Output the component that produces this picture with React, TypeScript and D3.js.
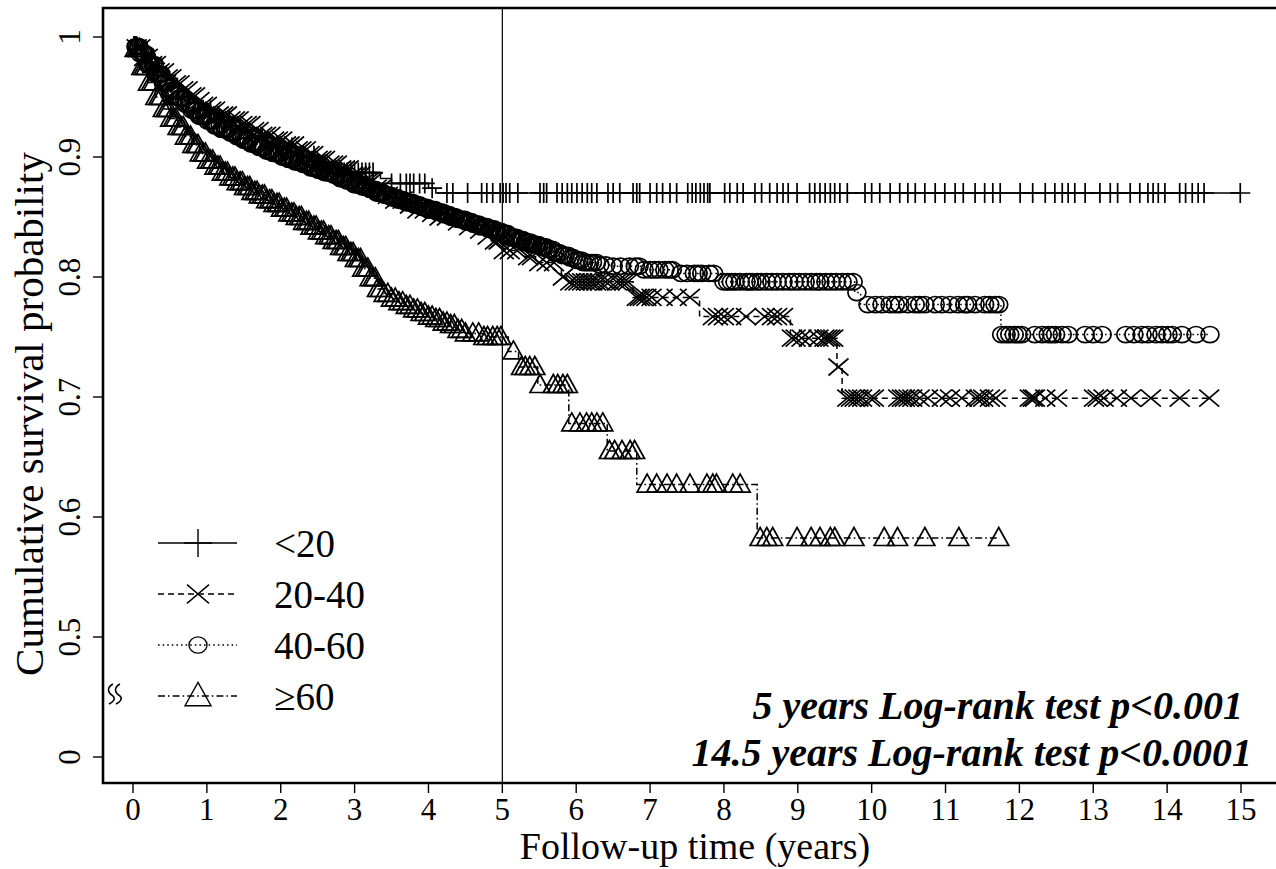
import * as d3 from "d3";

// survival curves: [years, survival] where the step starts
const groupNames = ["<20", "20-40", "40-60", "≥60"];

const stepsLt20: [number, number][] = [
  [0, 1], [0.04, 0.993], [0.1, 0.986], [0.2, 0.978], [0.35, 0.968], [0.5, 0.958],
  [0.7, 0.948], [0.9, 0.939], [1.1, 0.931], [1.35, 0.923], [1.6, 0.916], [1.9, 0.908],
  [2.2, 0.901], [2.5, 0.894], [2.75, 0.887], [3.35, 0.882], [3.5, 0.878], [4.0, 0.874],
  [4.1, 0.87],
];
const censorLt20 = [
  0.15, 0.3, 0.45, 0.6, 0.75, 0.9, 1.05, 1.2, 1.3, 1.45, 1.6, 1.75, 1.9, 2.0, 2.15, 2.3,
  2.45, 2.6, 2.78, 2.82, 2.86, 2.9, 2.95, 3.0, 3.05, 3.1, 3.15, 3.2, 3.25, 3.5, 3.62, 3.7,
  3.75, 3.8, 3.88, 3.95, 4.05, 4.25, 4.33, 4.53, 4.72, 4.79, 4.87, 4.97, 5.01, 5.05, 5.1,
  5.21, 5.51, 5.56, 5.6, 5.74, 5.81, 5.88, 5.94, 6.01, 6.08, 6.15, 6.21, 6.28, 6.43, 6.5,
  6.59, 6.77, 6.82, 6.86, 7.0, 7.09, 7.17, 7.27, 7.36, 7.51, 7.57, 7.62, 7.68, 7.73, 7.78,
  7.81, 8.01, 8.08, 8.18, 8.26, 8.42, 8.51, 8.62, 8.72, 8.8, 8.87, 8.99, 9.16, 9.23, 9.3,
  9.37, 9.44, 9.5, 9.57, 9.67, 9.91, 10.0, 10.11, 10.25, 10.38, 10.49, 10.59, 10.72, 10.86,
  10.99, 11.13, 11.24, 11.4, 11.53, 11.64, 11.74, 12.01, 12.18, 12.35, 12.48, 12.58, 12.66,
  12.75, 12.89, 13.09, 13.23, 13.33, 13.5, 13.63, 13.74, 13.81, 13.88, 13.97, 14.17, 14.25,
  14.34, 14.42, 14.5, 14.99,
];

const steps2040: [number, number][] = [
  [0, 1], [0.05, 0.991], [0.15, 0.983], [0.25, 0.977], [0.35, 0.971], [0.45, 0.966],
  [0.55, 0.961], [0.65, 0.956], [0.75, 0.951], [0.85, 0.947], [0.95, 0.943], [1.05, 0.939],
  [1.15, 0.935], [1.3, 0.931], [1.45, 0.927], [1.6, 0.922], [1.75, 0.918], [1.9, 0.914],
  [2.05, 0.91], [2.2, 0.906], [2.35, 0.902], [2.5, 0.898], [2.65, 0.894], [2.8, 0.89],
  [2.95, 0.885], [3.1, 0.88], [3.25, 0.874], [3.4, 0.868], [3.55, 0.864], [3.7, 0.86],
  [3.85, 0.856], [4.0, 0.853], [4.15, 0.85], [4.3, 0.846], [4.45, 0.842], [4.6, 0.839],
  [4.75, 0.834], [4.85, 0.83], [5.0, 0.822], [5.3, 0.817], [5.45, 0.812], [5.8, 0.8],
  [5.87, 0.796], [6.77, 0.783], [7.67, 0.767], [8.9, 0.749], [9.53, 0.725], [9.6, 0.699],
];
const censor2040 = [
  0.05, 0.1, 0.15, 0.2, 0.26, 0.31, 0.36, 0.42, 0.47, 0.52, 0.58, 0.63, 0.68, 0.74, 0.79,
  0.84, 0.9, 0.95, 1.0, 1.06, 1.11, 1.16, 1.22, 1.27, 1.32, 1.38, 1.43, 1.48, 1.54, 1.59,
  1.64, 1.7, 1.75, 1.8, 1.86, 1.91, 1.96, 2.02, 2.07, 2.12, 2.18, 2.23, 2.28, 2.34, 2.39,
  2.44, 2.5, 2.55, 2.6, 2.66, 2.71, 2.76, 2.82, 2.87, 2.92, 2.98, 3.03, 3.08, 3.14, 3.19,
  3.24, 3.3, 3.36, 3.45, 3.55, 3.65, 3.75, 3.85, 3.95, 4.05, 4.15, 4.25, 4.4, 4.55, 4.7,
  4.8, 4.9, 4.95, 5.02, 5.1, 5.2, 5.35, 5.4, 5.5, 5.6, 5.7, 5.82, 5.92, 5.98, 6.03, 6.08,
  6.13, 6.18, 6.22, 6.27, 6.32, 6.4, 6.45, 6.55, 6.6, 6.65, 6.7, 6.82, 6.86, 6.9, 6.95,
  7.02, 7.17, 7.36, 7.54, 7.85, 7.92, 8.0, 8.1, 8.3, 8.55, 8.65, 8.72, 8.8, 8.92, 8.97,
  9.05, 9.15, 9.28, 9.36, 9.4, 9.44, 9.48, 9.55, 9.67, 9.72, 9.77, 9.82, 9.87, 9.98, 10.03,
  10.36, 10.41, 10.45, 10.5, 10.55, 10.65, 10.76, 10.95, 11.06, 11.22, 11.41, 11.46, 11.51,
  11.6, 11.68, 12.14, 12.18, 12.21, 12.35, 12.51, 13.01, 13.06, 13.14, 13.32, 13.51, 13.78,
  14.17, 14.57,
];

const steps4060: [number, number][] = [
  [0, 1], [0.04, 0.992], [0.1, 0.986], [0.2, 0.977], [0.3, 0.969], [0.4, 0.962],
  [0.5, 0.955], [0.6, 0.949], [0.7, 0.944], [0.8, 0.939], [0.9, 0.934], [1.0, 0.93],
  [1.1, 0.926], [1.2, 0.923], [1.3, 0.92], [1.4, 0.917], [1.5, 0.914], [1.6, 0.911],
  [1.7, 0.908], [1.8, 0.905], [1.9, 0.903], [2.0, 0.9], [2.1, 0.898], [2.2, 0.896],
  [2.3, 0.894], [2.4, 0.891], [2.5, 0.889], [2.6, 0.887], [2.7, 0.885], [2.8, 0.882],
  [2.9, 0.88], [3.0, 0.877], [3.1, 0.875], [3.2, 0.873], [3.3, 0.87], [3.4, 0.868],
  [3.5, 0.866], [3.6, 0.864], [3.7, 0.862], [3.8, 0.86], [3.9, 0.858], [4.0, 0.856],
  [4.1, 0.854], [4.2, 0.852], [4.3, 0.85], [4.4, 0.848], [4.5, 0.846], [4.6, 0.844],
  [4.7, 0.842], [4.8, 0.84], [4.9, 0.838], [5.0, 0.836], [5.1, 0.833], [5.2, 0.831],
  [5.3, 0.829], [5.4, 0.827], [5.5, 0.825], [5.6, 0.823], [5.7, 0.82], [5.8, 0.818],
  [5.9, 0.816], [6.0, 0.814], [6.1, 0.812], [6.3, 0.81], [6.5, 0.809], [6.9, 0.806],
  [7.4, 0.803], [7.95, 0.796], [9.77, 0.787], [9.85, 0.777], [11.75, 0.752],
];
const censor4060 = [
  0.04, 0.06, 0.08, 0.1, 0.13, 0.15, 0.17, 0.2, 0.22, 0.24, 0.27, 0.29, 0.31, 0.34, 0.36,
  0.38, 0.41, 0.43, 0.45, 0.48, 0.5, 0.52, 0.55, 0.57, 0.59, 0.62, 0.64, 0.66, 0.69, 0.71,
  0.73, 0.76, 0.78, 0.8, 0.83, 0.85, 0.87, 0.9, 0.92, 0.94, 0.97, 0.99, 1.01, 1.04, 1.06,
  1.08, 1.11, 1.13, 1.15, 1.18, 1.2, 1.22, 1.25, 1.27, 1.29, 1.32, 1.34, 1.36, 1.39, 1.41,
  1.43, 1.46, 1.48, 1.5, 1.53, 1.55, 1.57, 1.6, 1.62, 1.64, 1.67, 1.69, 1.71, 1.74, 1.76,
  1.78, 1.81, 1.83, 1.85, 1.88, 1.9, 1.92, 1.95, 1.97, 1.99, 2.02, 2.04, 2.06, 2.09, 2.11,
  2.13, 2.16, 2.18, 2.2, 2.23, 2.25, 2.27, 2.3, 2.32, 2.34, 2.37, 2.39, 2.41, 2.44, 2.46,
  2.48, 2.51, 2.53, 2.55, 2.58, 2.6, 2.62, 2.65, 2.67, 2.69, 2.72, 2.74, 2.76, 2.79, 2.81,
  2.83, 2.86, 2.88, 2.9, 2.93, 2.95, 2.97, 3.0, 3.02, 3.04, 3.07, 3.09, 3.11, 3.14, 3.16,
  3.18, 3.21, 3.23, 3.25, 3.28, 3.3, 3.32, 3.35, 3.37, 3.39, 3.42, 3.44, 3.46, 3.49, 3.51,
  3.53, 3.56, 3.58, 3.6, 3.63, 3.65, 3.67, 3.7, 3.72, 3.74, 3.77, 3.79, 3.81, 3.84, 3.86,
  3.88, 3.91, 3.93, 3.95, 3.98, 4.0, 4.02, 4.05, 4.07, 4.09, 4.12, 4.14, 4.16, 4.19, 4.21,
  4.23, 4.26, 4.28, 4.3, 4.33, 4.35, 4.37, 4.4, 4.42, 4.44, 4.47, 4.49, 4.51, 4.54, 4.56,
  4.58, 4.61, 4.63, 4.65, 4.68, 4.7, 4.72, 4.75, 4.77, 4.79, 4.82, 4.84, 4.86, 4.89, 4.91,
  4.93, 4.96, 4.98, 5.0, 5.03, 5.05, 5.07, 5.1, 5.12, 5.14, 5.17, 5.19, 5.21, 5.24, 5.26,
  5.28, 5.31, 5.33, 5.35, 5.38, 5.4, 5.42, 5.45, 5.47, 5.49, 5.52, 5.54, 5.56, 5.59, 5.61,
  5.64, 5.68, 5.71, 5.75, 5.78, 5.82, 5.85, 5.89, 5.92, 5.96, 6.0, 6.03, 6.07, 6.1, 6.14,
  6.18, 6.22, 6.27, 6.32, 6.4, 6.5, 6.6, 6.72, 6.8, 6.85, 6.92, 7.0, 7.06, 7.12, 7.2, 7.26,
  7.3, 7.42, 7.5, 7.6, 7.65, 7.7, 7.8, 7.86, 8.0, 8.05, 8.1, 8.15, 8.22, 8.3, 8.34, 8.38,
  8.45, 8.5, 8.58, 8.65, 8.72, 8.8, 8.88, 8.95, 9.02, 9.1, 9.18, 9.25, 9.3, 9.38, 9.45,
  9.52, 9.6, 9.68, 9.75, 9.8, 9.95, 10.05, 10.14, 10.25, 10.32, 10.38, 10.49, 10.59, 10.65,
  10.72, 10.86, 10.95, 11.06, 11.17, 11.26, 11.3, 11.4, 11.53, 11.6, 11.67, 11.72, 11.76,
  11.82, 11.87, 11.93, 11.98, 12.03, 12.21, 12.31, 12.39, 12.44, 12.49, 12.58, 12.66,
  12.89, 13.0, 13.12, 13.44, 13.55, 13.66, 13.74, 13.85, 13.93, 14.01, 14.07, 14.2, 14.39,
  14.58,
];

const steps60: [number, number][] = [
  [0, 1], [0.03, 0.99], [0.1, 0.975], [0.2, 0.962], [0.3, 0.95], [0.4, 0.94], [0.5, 0.932],
  [0.6, 0.925], [0.7, 0.917], [0.8, 0.91], [0.9, 0.903], [1.0, 0.897], [1.1, 0.892],
  [1.2, 0.887], [1.3, 0.883], [1.4, 0.879], [1.5, 0.875], [1.6, 0.871], [1.7, 0.868],
  [1.8, 0.864], [1.9, 0.861], [2.0, 0.857], [2.1, 0.853], [2.2, 0.85], [2.3, 0.846],
  [2.4, 0.842], [2.5, 0.838], [2.6, 0.834], [2.7, 0.83], [2.8, 0.825], [2.9, 0.82],
  [3.0, 0.815], [3.1, 0.807], [3.2, 0.799], [3.3, 0.79], [3.4, 0.786], [3.5, 0.782],
  [3.6, 0.779], [3.7, 0.776], [3.8, 0.773], [3.9, 0.77], [4.0, 0.767], [4.1, 0.765],
  [4.2, 0.762], [4.3, 0.76], [4.4, 0.756], [4.5, 0.753], [4.75, 0.75], [5.08, 0.738],
  [5.22, 0.725], [5.48, 0.71], [5.9, 0.678], [6.42, 0.655], [6.82, 0.627], [8.45, 0.5825],
];
const censor60 = [
  0.03, 0.06, 0.09, 0.12, 0.15, 0.18, 0.21, 0.25, 0.28, 0.31, 0.35, 0.38, 0.41, 0.45,
  0.48, 0.51, 0.55, 0.58, 0.61, 0.65, 0.68, 0.71, 0.75, 0.78, 0.81, 0.85, 0.88, 0.91,
  0.95, 0.98, 1.01, 1.05, 1.08, 1.11, 1.15, 1.18, 1.21, 1.25, 1.28, 1.31, 1.35, 1.38,
  1.41, 1.45, 1.48, 1.51, 1.55, 1.58, 1.61, 1.65, 1.68, 1.71, 1.75, 1.78, 1.81, 1.85,
  1.88, 1.91, 1.95, 1.98, 2.01, 2.05, 2.08, 2.11, 2.15, 2.18, 2.21, 2.25, 2.28, 2.31,
  2.35, 2.38, 2.41, 2.45, 2.48, 2.51, 2.55, 2.58, 2.61, 2.65, 2.68, 2.71, 2.75, 2.78,
  2.81, 2.85, 2.88, 2.91, 2.95, 2.98, 3.01, 3.05, 3.08, 3.11, 3.15, 3.18, 3.21, 3.25,
  3.28, 3.31, 3.35, 3.4, 3.45, 3.5, 3.55, 3.6, 3.65, 3.7, 3.75, 3.8, 3.85, 3.9, 3.95, 4.0,
  4.05, 4.1, 4.15, 4.2, 4.25, 4.3, 4.35, 4.4, 4.45, 4.5, 4.6, 4.68, 4.75, 4.8, 4.87, 4.93,
  4.98, 5.15, 5.26, 5.31, 5.37, 5.44, 5.51, 5.69, 5.75, 5.82, 5.88, 5.94, 6.05, 6.14, 6.21,
  6.28, 6.36, 6.45, 6.52, 6.62, 6.73, 6.79, 6.96, 7.09, 7.23, 7.36, 7.54, 7.77, 7.85, 7.9,
  8.12, 8.22, 8.49, 8.58, 8.66, 8.99, 9.18, 9.3, 9.44, 9.5, 9.76, 10.17, 10.35, 10.72,
  11.18, 11.72,
];

const yearTicks = [0, 1, 2, 3, 4, 5, 6, 7, 8, 9, 10, 11, 12, 13, 14, 15];
const survTicks = [1, 0.9, 0.8, 0.7, 0.6, 0.5, 0.4];
const survTickLabels = ["1", "0.9", "0.8", "0.7", "0.6", "0.5", "0"];
const pLines = ["5 years Log-rank test p<0.001", "14.5 years Log-rank test p<0.0001"];

const FONT = "'Liberation Serif', 'Times New Roman', serif";

const x = d3.scaleLinear().domain([0, 15]).range([133, 1241]);
// axis is broken below 0.5; the "0" tick is drawn where 0.4 would sit
const y = d3.scaleLinear().domain([0.4, 1]).range([757, 37]);

const marker = {
  plus: (s: number) => `M${-s},0H${s}M0,${-s}V${s}`,
  cross: (s: number) => `M${-s},${-s * 0.85}L${s},${s * 0.85}M${-s},${s * 0.85}L${s},${-s * 0.85}`,
  circle: (s: number) => `M${s},0A${s},${s * 0.9} 0 1 1 ${-s},0A${s},${s * 0.9} 0 1 1 ${s},0Z`,
  triangle: (s: number) => `M0,${-s * 1.05}L${s},${s * 0.75}L${-s},${s * 0.75}Z`,
};

const groups = [
  { name: groupNames[0], steps: stepsLt20, censor: censorLt20, mk: "plus", size: 10, dash: "none" },
  { name: groupNames[1], steps: steps2040, censor: censor2040, mk: "cross", size: 10, dash: "6,4" },
  { name: groupNames[2], steps: steps4060, censor: censor4060, mk: "circle", size: 9, dash: "1.6,3" },
  { name: groupNames[3], steps: steps60, censor: censor60, mk: "triangle", size: 10, dash: "7,3,1.6,3" },
] as const;

const bis = d3.bisector((d: [number, number]) => d[0]).right;
const survAt = (steps: readonly [number, number][], t: number) =>
  steps[Math.max(0, bis(steps as [number, number][], t) - 1)][1];

const line = d3
  .line<[number, number]>()
  .x((d) => x(d[0]))
  .y((d) => y(d[1]))
  .curve(d3.curveStepAfter);

export default function App() {
  const left = 103, top = 8, bottom = 783;
  return (
    <svg
      width={1276}
      height={869}
      style={{ position: "absolute", left: 0, top: 0, background: "#fff" }}
      fontFamily={FONT}
    >
      <rect width={1276} height={869} fill="#fff" />
      {/* frame */}
      <path d={`M1276,${top}H${left}V${bottom}H1276`} fill="none" stroke="#000" strokeWidth={2.6} />
      {/* axis break mark */}
      <path
        d="M113,684c-7,4 -5,9 0,12c3,3 0,6 -4,8M120,684c-7,4 -5,9 0,12c3,3 0,6 -4,8"
        fill="none"
        stroke="#000"
        strokeWidth={1.5}
      />
      {/* y ticks */}
      {survTicks.map((v, i) => (
        <g key={"yt" + i}>
          <line x1={left - 10} x2={left} y1={y(v)} y2={y(v)} stroke="#000" strokeWidth={1.4} />
          <text transform={`translate(80,${y(v)}) rotate(-90)`} textAnchor="middle" fontSize={31}>
            {survTickLabels[i]}
          </text>
        </g>
      ))}
      {/* x ticks */}
      {yearTicks.map((v) => (
        <g key={"xt" + v}>
          <line x1={x(v)} x2={x(v)} y1={bottom} y2={bottom + 10} stroke="#000" strokeWidth={1.4} />
          <text x={x(v)} y={820} textAnchor="middle" fontSize={31}>
            {v}
          </text>
        </g>
      ))}
      <text transform="translate(43,414) rotate(-90)" textAnchor="middle" fontSize={41}>
        Cumulative survival probability
      </text>
      <text x={695} y={859} textAnchor="middle" fontSize={38}>
        Follow-up time (years)
      </text>
      {/* 5-year reference line */}
      <line x1={x(5)} x2={x(5)} y1={top} y2={bottom} stroke="#000" strokeWidth={1.2} />
      {/* curves */}
      {groups.map((g) => {
        const tEnd = Math.max(g.censor[g.censor.length - 1], g.steps[g.steps.length - 1][0]);
        const pts: [number, number][] = [...g.steps, [tEnd, g.steps[g.steps.length - 1][1]]];
        return (
          <g key={g.name}>
            <path d={line(pts) || ""} fill="none" stroke="#000" strokeWidth={1.5} strokeDasharray={g.dash} />
            {g.censor.map((t, j) => (
              <path
                key={j}
                transform={`translate(${x(t)},${y(survAt(g.steps, t))})`}
                d={marker[g.mk](g.size)}
                fill="none"
                stroke="#000"
                strokeWidth={1.7}
              />
            ))}
          </g>
        );
      })}
      {/* legend */}
      {groups.map((g, i) => {
        const ly = 543 + i * 51;
        const ls = g.mk === "plus" ? 14 : g.mk === "triangle" ? 13 : g.mk === "circle" ? 9 : 11;
        return (
          <g key={"lg" + i}>
            <line x1={158} x2={237} y1={ly} y2={ly} stroke="#000" strokeWidth={1.3} strokeDasharray={g.dash} />
            <path transform={`translate(198,${ly})`} d={marker[g.mk](ls)} fill="none" stroke="#000" strokeWidth={1.4} />
            <text x={274} y={ly + 14} fontSize={39}>
              {g.name}
            </text>
          </g>
        );
      })}
      {/* test results */}
      <text x={1243} y={719} textAnchor="end" fontSize={40} fontWeight="bold" fontStyle="italic">
        {pLines[0]}
      </text>
      <text x={1252} y={766} textAnchor="end" fontSize={40} fontWeight="bold" fontStyle="italic">
        {pLines[1]}
      </text>
    </svg>
  );
}
